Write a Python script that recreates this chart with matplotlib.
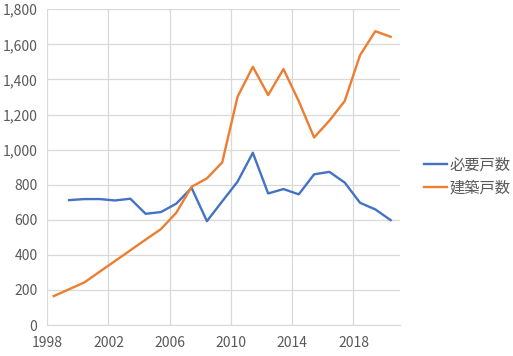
import numpy as np
import matplotlib
matplotlib.use("Agg")
import matplotlib.pyplot as plt
from matplotlib.ticker import FuncFormatter

plt.rcParams['font.family'] = ['Noto Sans CJK JP', 'DejaVu Sans']

# data
years_need = list(range(1999, 2021))
need = [712, 718, 718, 710, 720, 634, 644, 692, 782, 592, 705, 817, 982,
        750, 775, 745, 859, 873, 812, 697, 659, 598]
years_build = list(range(1998, 2021))
build = [165, 204, 243, 304, 365, 426, 487, 547, 640, 788, 836, 927, 1301,
         1472, 1311, 1459, 1276, 1069, 1165, 1277, 1538, 1675, 1643]
labels = ["必要戸数", "建築戸数"]
xticks = [1998, 2002, 2006, 2010, 2014, 2018]

# points sit a bit right of the year tick, like in the original
offset = 0.43

fig = plt.figure(figsize=(5.13, 3.56), dpi=100)
ax = fig.add_axes([0.092, 0.087, 0.688, 0.887])

ax.plot(np.array(years_need) + offset, need, color="#4472C4", lw=1.7, label=labels[0])
ax.plot(np.array(years_build) + offset, build, color="#ED7D31", lw=1.7, label=labels[1])

ax.set_xlim(1998, 2021.05)
ax.set_ylim(0, 1800)
ax.set_xticks(xticks)
ax.set_yticks(range(0, 1801, 200))
ax.yaxis.set_major_formatter(FuncFormatter(lambda v, p: f"{int(v):,}"))

ax.grid(True, color="#d9d9d9", lw=0.9)
ax.set_axisbelow(True)
for s in ["top", "right", "left"]:
    ax.spines[s].set_visible(False)
ax.spines["bottom"].set_color("#d9d9d9")
ax.tick_params(length=0, labelsize=10, colors="#595959")
ax.tick_params(axis="x", pad=8)
ax.tick_params(axis="y", pad=7)

fig.legend(loc="center left", bbox_to_anchor=(0.8, 0.504), frameon=False,
           fontsize=11, handlelength=1.5, handletextpad=0.15, labelspacing=0.4,
           labelcolor="#595959")

fig.savefig("out.png", dpi=100)
